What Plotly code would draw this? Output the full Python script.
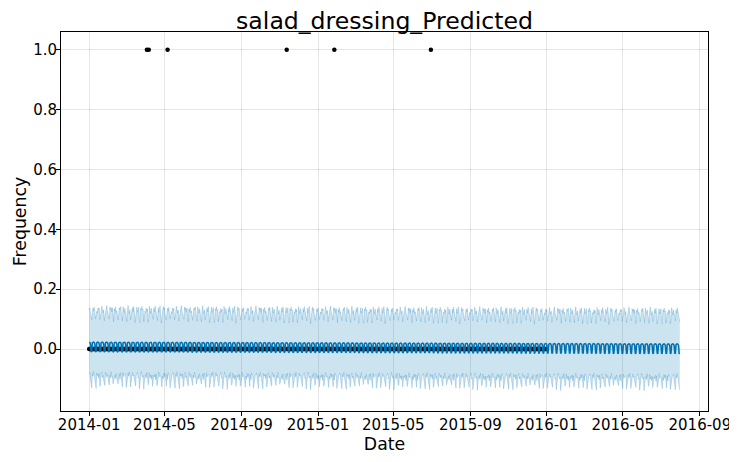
import pandas as pd
import numpy as np
import plotly.graph_objects as go

# ---- data ----
history_start = "2014-01-01"
history_end = "2015-12-31"
forecast_end = "2016-07-31"

# days whose observed frequency was 1.0 (all other observed days are 0.0)
spike_dates = ["2014-04-03", "2014-04-06", "2014-05-06", "2014-11-12", "2015-01-27", "2015-06-30"]
spike_value = 1.0
baseline_value = 0.0

# fitted weekly component (Mon..Sun) and trend end points
weekly_effect = [0.021, 0.023, 0.023, 0.022, 0.017, -0.010, -0.008]
trend_start = 0.0
trend_end = -0.006

# uncertainty interval: half width and hand-read roughness of the edges
band_half_width = 0.096
upper_roughness = [0.012, 0.020, 0.006, 0.025, 0.010, 0.003, 0.018, 0.008, 0.022, 0.004,
                   0.015, 0.027, 0.009, 0.001, 0.019, 0.012, 0.024]
lower_roughness = [0.010, 0.004, 0.022, 0.014, 0.026, 0.007, 0.018, 0.002, 0.012, 0.020,
                   0.009, 0.028, 0.005, 0.016, 0.011, 0.023, 0.003, 0.019, 0.013]

tick_labels_y = ["0.0", "0.2", "0.4", "0.6", "0.8", "1.0"]
tick_values_y = [0.0, 0.2, 0.4, 0.6, 0.8, 1.0]

# ---- build series ----
hist_dates = pd.date_range(history_start, history_end, freq="D")
all_dates = pd.date_range(history_start, forecast_end, freq="D")
n = len(all_dates)

observed = pd.Series(baseline_value, index=hist_dates)
observed.loc[pd.to_datetime(spike_dates)] = spike_value

trend = np.linspace(trend_start, trend_end, n)
weekly = np.array([weekly_effect[d.weekday()] for d in all_dates])
yhat = trend + weekly
ur = np.array([upper_roughness[i % len(upper_roughness)] for i in range(n)])
lr = np.array([lower_roughness[i % len(lower_roughness)] for i in range(n)])
yhat_upper = yhat + band_half_width + ur
yhat_lower = yhat - band_half_width - lr

blue = "#0072B2"
band = "rgba(0,114,178,0.2)"

fig = go.Figure()
fig.add_trace(go.Scatter(x=observed.index, y=observed.values, mode="markers",
                         marker=dict(color="black", size=4.5), showlegend=False))
fig.add_trace(go.Scatter(x=all_dates, y=yhat, mode="lines",
                         line=dict(color=blue, width=1.5), showlegend=False))
fig.add_trace(go.Scatter(x=all_dates, y=yhat_lower, mode="lines",
                         line=dict(color=band, width=1), showlegend=False, hoverinfo="skip"))
fig.add_trace(go.Scatter(x=all_dates, y=yhat_upper, mode="lines", fill="tonexty",
                         fillcolor=band, line=dict(color=band, width=1),
                         showlegend=False, hoverinfo="skip"))

font = "DejaVu Sans"
fig.update_layout(
    width=729, height=454,
    margin=dict(l=52.5, r=28.7, t=23.5, b=50.5, autoexpand=False),
    paper_bgcolor="white", plot_bgcolor="white",
    font=dict(family=font, color="black", size=15),
    title=dict(text="salad_dressing_Predicted", font=dict(size=23.6, family=font, color="black"),
               x=0.5, xref="paper", xanchor="center", y=1, yref="paper", yanchor="bottom",
               pad=dict(b=3.5)),
)
fig.update_xaxes(
    range=["2013-11-17", "2016-09-14"], automargin=False,
    type="date", tick0="2014-01-01", dtick="M4", tickformat="%Y-%m",
    showline=True, mirror=True, linecolor="black", linewidth=1,
    ticks="outside", ticklen=4, tickcolor="black", tickwidth=1,
    ticklabelstandoff=-4,
    showgrid=True, gridcolor="rgba(128,128,128,0.2)", gridwidth=1, zeroline=False,
    tickfont=dict(size=15, family=font),
    title=dict(text="Date", font=dict(size=17.3, family=font), standoff=2),
)
fig.update_yaxes(
    range=[-0.207, 1.059], automargin=False,
    tickvals=tick_values_y, ticktext=tick_labels_y,
    showline=True, mirror=True, linecolor="black", linewidth=1,
    ticks="outside", ticklen=4, tickcolor="black", tickwidth=1,
    ticklabelstandoff=-4,
    showgrid=True, gridcolor="rgba(128,128,128,0.2)", gridwidth=1, zeroline=False,
    tickfont=dict(size=15, family=font),
    title=dict(text="Frequency", font=dict(size=17.3, family=font), standoff=2),
)

fig.write_html("out.html")
